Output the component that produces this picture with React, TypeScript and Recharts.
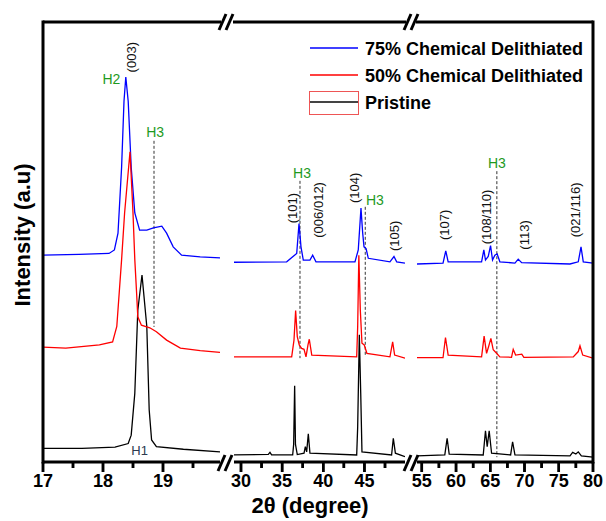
import React from 'react';
import { ComposedChart, Line, XAxis, YAxis, Scatter, ReferenceLine } from 'recharts';

type Pt = [number, number];

const FONT = 'Arial, "Liberation Sans", Helvetica, sans-serif';

// intensity (a.u.), offset per series; x in 2-theta degrees
const blue1: Pt[] = [[17.0, 47.0], [17.6, 47.2], [18.1, 47.4], [18.19, 48.2], [18.25, 52], [18.31, 67], [18.35, 82], [18.38, 87.5], [18.42, 82], [18.47, 67], [18.53, 56.6], [18.61, 52.7], [18.73, 52.7], [18.84, 53.2], [18.98, 53.6], [19.06, 52], [19.17, 48.9], [19.31, 47], [19.62, 46.6], [19.95, 46.4]];
const red1: Pt[] = [[17.0, 26.1], [17.38, 25.9], [17.94, 26.6], [18.16, 27.3], [18.23, 30.8], [18.31, 46], [18.36, 56.6], [18.45, 70.5], [18.5, 56.6], [18.53, 46], [18.56, 38.4], [18.58, 33], [18.64, 31.1], [18.78, 30.5], [18.89, 29.6], [19.06, 27.7], [19.29, 25.9], [19.62, 25.3], [19.95, 24.9]];
const black1: Pt[] = [[17.0, 3.1], [17.65, 3.1], [18.2, 3.4], [18.42, 4.2], [18.47, 6.1], [18.53, 15.6], [18.58, 34.5], [18.65, 42.5], [18.73, 30.8], [18.77, 11.8], [18.81, 5], [18.89, 3.5], [19.34, 2.9], [19.95, 2.3]];

const blue2: Pt[] = [[29.15, 45.4], [35.55, 45.5], [36.77, 47.4], [37.05, 54.2], [37.29, 48.9], [37.57, 45.9], [38.38, 45.9], [38.71, 47], [39.11, 45.5], [43.85, 45.5], [44.25, 48.2], [44.58, 57.7], [44.79, 52], [44.95, 48.9], [45.2, 48.5], [45.47, 46.3], [48.1, 45.5], [48.59, 46.7], [48.92, 45.5], [49.93, 45.2]];
const red2: Pt[] = [[29.15, 23.9], [36.16, 23.9], [36.44, 27.7], [36.64, 34.4], [36.84, 28.5], [37.08, 26.6], [37.37, 25.8], [37.66, 25.6], [37.9, 23.9], [38.14, 26.6], [38.3, 27.9], [38.6, 24.3], [44.06, 23.9], [44.18, 30.8], [44.32, 47], [44.5, 34.5], [44.7, 27], [44.98, 26.6], [45.3, 24.7], [48.1, 23.9], [48.43, 27.3], [48.67, 24.3], [49.93, 23.6]];
const black2: Pt[] = [[29.15, 1.6], [33.32, 1.75], [33.52, 2.2], [33.72, 1.6], [36.28, 1.6], [36.4, 4], [36.52, 17.3], [36.62, 4], [36.84, 1.7], [37.66, 2], [37.82, 3.5], [37.98, 2.3], [38.18, 6.4], [38.38, 2], [44.06, 1.6], [44.18, 8], [44.38, 28.9], [44.55, 15.6], [44.7, 2.3], [48.3, 1.6], [48.51, 5.4], [48.76, 2], [49.93, 1.2]];

const blue3: Pt[] = [[54.3, 45], [58.1, 45.2], [58.5, 48], [58.85, 45.5], [63.73, 45.5], [64.06, 48.2], [64.3, 45.9], [64.7, 46.7], [65.04, 49.2], [65.33, 45.9], [65.67, 47], [66.0, 47.3], [66.4, 45.5], [68.6, 45.2], [69.08, 46.1], [69.58, 45.3], [76.64, 45], [77.85, 45.5], [78.25, 48.9], [78.58, 45.5], [80, 45.2]];
const red3: Pt[] = [[54.3, 23.7], [58.1, 23.7], [58.46, 28.3], [58.85, 24.3], [63.73, 23.9], [64.1, 28.6], [64.46, 24.7], [64.75, 26.2], [65.09, 28.1], [65.43, 25.5], [65.92, 24.7], [66.4, 23.9], [68.1, 23.8], [68.35, 25.6], [68.7, 24.3], [69.6, 24.5], [69.9, 23.8], [77.12, 23.9], [77.85, 25.1], [78.1, 26.4], [78.5, 24.3], [80, 23.6]];
const black3: Pt[] = [[54.3, 1.4], [58.36, 1.6], [58.7, 5.4], [59.0, 1.8], [63.97, 1.6], [64.3, 7.1], [64.55, 3.5], [64.84, 7.1], [65.19, 2], [67.97, 1.6], [68.26, 4.6], [68.6, 1.6], [76.64, 1.4], [77.03, 2.2], [77.5, 1.8], [77.85, 2.3], [78.3, 1.4], [80, 1.1]];

const ticks1 = [17, 17.5, 18, 18.5, 19, 19.5];
const ticks2 = [30, 32.5, 35, 37.5, 40, 42.5, 45, 47.5];
const ticks3 = [55, 57.5, 60, 62.5, 65, 67.5, 70, 72.5, 75, 77.5, 80];

// H3 guide lines: [x, yTop, yBottom]
const h3Lines1: [number, number, number][] = [[18.85, 73.0, 30.7]];
const h3Lines2: [number, number, number][] = [[37.17, 63.9, 23.6], [45.1, 58.0, 23.9]];
const h3Lines3: [number, number, number][] = [[65.96, 66.1, 1.1]];

// peak labels: [x, y, text, kind]
type Ann = [number, number, string, string];
const labels1: Ann[] = [[18.48, 92.0, '(003)', 'hkl'], [18.14, 87.0, 'H2', 'phase'], [18.87, 75, 'H3', 'phase'], [18.61, 2.7, 'H1', 'h1']];
const labels2: Ann[] = [[37.41, 65.7, 'H3', 'phase'], [36.2, 57.7, '(101)', 'hkl'], [39.36, 57.3, '(006/012)', 'hkl'], [43.85, 62.3, '(104)', 'hkl'], [46.28, 59.5, 'H3', 'phase'], [48.71, 51.4, '(105)', 'hkl']];
const labels3: Ann[] = [[65.96, 68, 'H3', 'phase'], [58.36, 53.9, '(107)', 'hkl'], [64.5, 55.7, '(108/110)', 'hkl'], [70.06, 51.6, '(113)', 'hkl'], [77.5, 57.3, '(021/116)', 'hkl']];

const toRows = (pts: Pt[]) => pts.map(([x, y]) => ({ x, y }));

const isMajorTick = (v: number, major: number) => Math.abs(v / major - Math.round(v / major)) < 1e-6;

function AxisTick(props: any) {
  const { x, y, payload, major } = props;
  const v = payload.value;
  const isMajor = isMajorTick(v, major);
  return (
    <g>
      <rect x={x - 1.25} y={y} width={2.5} height={isMajor ? 10 : 6} fill="#000" stroke="none" />
      {isMajor && (
        <text x={x} y={y + 25} textAnchor="middle" fontFamily={FONT} fontWeight="bold" fontSize={18} fill="#000">
          {v}
        </text>
      )}
    </g>
  );
}

function AnnShape(props: any) {
  const { cx, cy, payload } = props;
  if (cx == null || cy == null) return <g />;
  if (payload.kind === 'hkl') {
    return (
      <text x={cx} y={cy} transform={`rotate(-90 ${cx} ${cy})`} textAnchor="middle" dominantBaseline="central" fontFamily={FONT} fontSize={13} fill="#111">
        {payload.text}
      </text>
    );
  }
  const color = payload.kind === 'h1' ? '#2d3a4f' : '#1e9a1e';
  return (
    <text x={cx} y={cy} textAnchor="middle" dominantBaseline="central" fontFamily={FONT} fontSize={payload.kind === 'h1' ? 13 : 14} fill={color}>
      {payload.text}
    </text>
  );
}

interface PanelCfg {
  left: number;
  width: number;
  domain: [number, number];
  ticks: number[];
  major: number;
  blue: Pt[];
  red: Pt[];
  black: Pt[];
  h3: [number, number, number][];
  labels: Ann[];
}

const panels: PanelCfg[] = [
  { left: 43, width: 177, domain: [17, 19.95], ticks: ticks1, major: 1, blue: blue1, red: red1, black: black1, h3: h3Lines1, labels: labels1 },
  { left: 234, width: 171, domain: [29.15, 49.93], ticks: ticks2, major: 5, blue: blue2, red: red2, black: black2, h3: h3Lines2, labels: labels2 },
  { left: 417, width: 176, domain: [54.3, 80], ticks: ticks3, major: 5, blue: blue3, red: red3, black: black3, h3: h3Lines3, labels: labels3 },
];

function Panel({ left, width, domain, ticks, major, blue, red, black, h3, labels }: PanelCfg) {
  return (
    <div style={{ position: 'absolute', left: left - 20, top: 12 }}>
      <ComposedChart width={width + 40} height={490} margin={{ top: 10, right: 20, bottom: 0, left: 20 }}>
        <XAxis
          dataKey="x"
          type="number"
          domain={domain}
          allowDataOverflow
          ticks={ticks}
          interval={0}
          height={40}
          tickSize={0}
          tickMargin={0}
          tickLine={false}
          axisLine={{ stroke: '#000', strokeWidth: 3 }}
          tick={(p: any) => <AxisTick {...p} major={major} />}
        />
        <YAxis dataKey="y" type="number" domain={[0, 100]} allowDataOverflow width={0} tick={false} tickLine={false} axisLine={false} />
        {h3.map(([x, y1, y2], i) => (
          <ReferenceLine
            key={`h3-${i}`}
            segment={[{ x, y: y1 }, { x, y: y2 }]}
            stroke="#333"
            strokeWidth={1}
            strokeDasharray="3 2"
            ifOverflow="visible"
          />
        ))}
        <Line data={toRows(black)} dataKey="y" type="linear" stroke="#000" strokeWidth={1.3} dot={false} isAnimationActive={false} />
        <Line data={toRows(blue)} dataKey="y" type="linear" stroke="#0000ff" strokeWidth={1.3} dot={false} isAnimationActive={false} />
        <Line data={toRows(red)} dataKey="y" type="linear" stroke="#ff0000" strokeWidth={1.3} dot={false} isAnimationActive={false} />
        <Scatter
          data={labels.map(([x, y, text, kind]) => ({ x, y, text, kind }))}
          dataKey="y"
          shape={AnnShape}
          isAnimationActive={false}
        />
      </ComposedChart>
    </div>
  );
}

function Break({ x, y }: { x: number; y: number }) {
  return (
    <g stroke="#000" strokeWidth={3}>
      <line x1={x - 7} y1={y + 8} x2={x} y2={y - 8} />
      <line x1={x} y1={y + 8} x2={x + 7} y2={y - 8} />
    </g>
  );
}

const legendItems = [
  { name: '75% Chemical Delithiated', color: '#0000ff' },
  { name: '50% Chemical Delithiated', color: '#ff0000' },
  { name: 'Pristine', color: '#444' },
];

export default function App() {
  return (
    <div style={{ position: 'absolute', left: 0, top: 0, width: 606, height: 521, background: '#fff', fontFamily: FONT }}>
      {panels.map((p, i) => (
        <Panel key={i} {...p} />
      ))}
      <svg width={606} height={521} style={{ position: 'absolute', left: 0, top: 0, pointerEvents: 'none' }}>
        {/* frame: left, right and broken top border */}
        <g stroke="#000" strokeWidth={3}>
          <line x1={43} y1={20.5} x2={43} y2={463.5} />
          <line x1={593} y1={20.5} x2={593} y2={463.5} />
          <line x1={43} y1={22} x2={221} y2={22} />
          <line x1={233} y1={22} x2={406} y2={22} />
          <line x1={416} y1={22} x2={593} y2={22} />
        </g>
        {/* outward tick marks under each panel's axis line */}
        {panels.map((p, i) => (
          <g key={`tk-${i}`} fill="#000">
            {p.ticks.map((t) => {
              const x = p.left + ((t - p.domain[0]) / (p.domain[1] - p.domain[0])) * p.width;
              return <rect key={t} x={x - 1.25} y={462} width={2.5} height={isMajorTick(t, p.major) ? 10 : 6} />;
            })}
          </g>
        ))}
        <Break x={226} y={22} />
        <Break x={411} y={22} />
        <Break x={225} y={463} />
        <Break x={411} y={463} />
        {legendItems.map((it, i) => {
          const cy = 48 + i * 27;
          return (
            <g key={it.name}>
              <line x1={310} x2={358} y1={cy} y2={cy} stroke={it.color} strokeWidth={i === 2 ? 2 : 1.5} />
              <text x={365} y={cy + 6.5} fontFamily={FONT} fontWeight="bold" fontSize={18} fill="#000">
                {it.name}
              </text>
            </g>
          );
        })}
        <rect x={309.5} y={91.5} width={49} height={23} fill="none" stroke="#ee5555" strokeWidth={1} />
        <text x={22} y={235} transform="rotate(-90 22 235)" textAnchor="middle" dominantBaseline="central" fontFamily={FONT} fontWeight="bold" fontSize={22} fill="#000">
          Intensity (a.u)
        </text>
        <text x={310} y={513} textAnchor="middle" fontFamily={FONT} fontWeight="bold" fontSize={22} fill="#000">
          2θ (degree)
        </text>
      </svg>
    </div>
  );
}
